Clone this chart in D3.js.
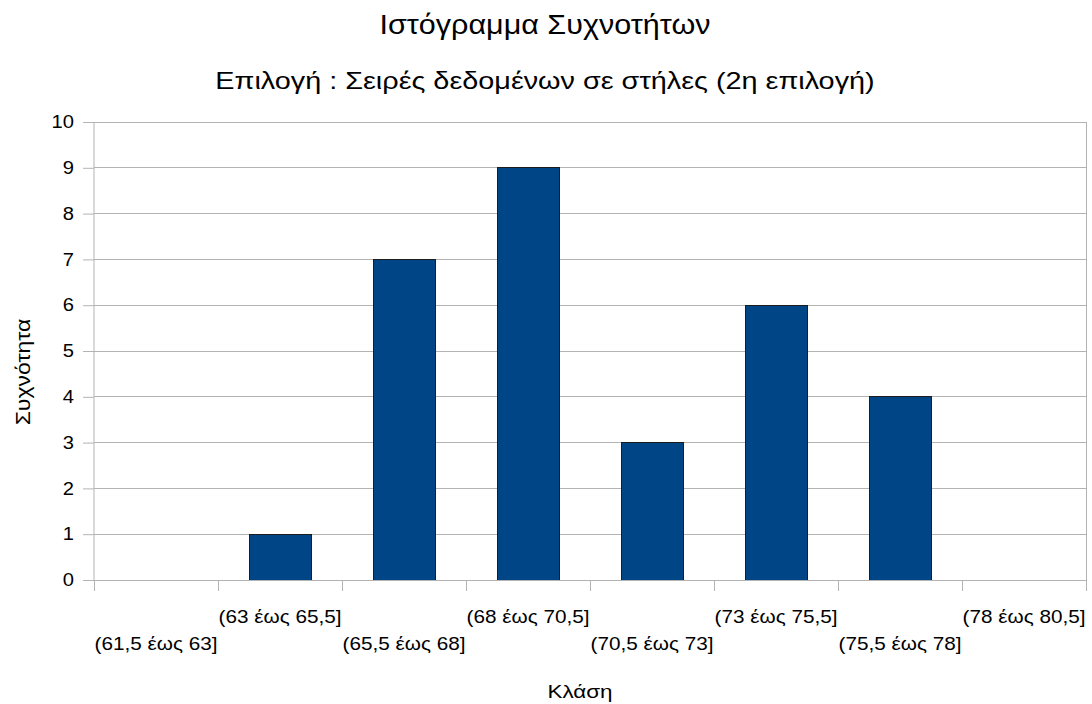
<!DOCTYPE html>
<html>
<head>
<meta charset="utf-8">
<script src="https://cdn.jsdelivr.net/npm/d3@7"></script>
<style>
  html, body { margin: 0; padding: 0; background: #fff; }
  svg text { font-family: "Liberation Sans", Arial, sans-serif; fill: #000; }
</style>
</head>
<body>
<svg id="chart" width="1092" height="704"></svg>
<script>
// Frequency histogram: class intervals and their counts
const categories = [
  "(61,5 έως 63]", "(63 έως 65,5]", "(65,5 έως 68]", "(68 έως 70,5]",
  "(70,5 έως 73]", "(73 έως 75,5]", "(75,5 έως 78]", "(78 έως 80,5]"
];
const frequencies = [0, 1, 7, 9, 3, 6, 4, 0];
const yTicks = [0, 1, 2, 3, 4, 5, 6, 7, 8, 9, 10];

const title = "Ιστόγραμμα Συχνοτήτων";
const subtitle = "Επιλογή : Σειρές δεδομένων σε στήλες (2η επιλογή)";
const xTitle = "Κλάση";
const yTitle = "Συχνότητα";

const svg = d3.select("#chart");
const plot = { left: 94, right: 1086, top: 122, bottom: 580 };
const widen = 1.12; // glyphs are drawn slightly wider than the font's natural width

// stretch a text selection horizontally along its own direction
function stretch(sel, factor) {
  sel.each(function () {
    const w = this.getComputedTextLength();
    d3.select(this)
      .attr("textLength", w * factor)
      .attr("lengthAdjust", "spacingAndGlyphs");
  });
}

const x = d3.scaleBand()
  .domain(categories)
  .range([plot.left, plot.right])
  .paddingInner(0.5)
  .paddingOuter(0.25);

const y = d3.scaleLinear()
  .domain([0, 10])
  .range([plot.bottom, plot.top]);

const gridColor = "#b3b3b3";

// horizontal grid lines
svg.append("g")
  .selectAll("line")
  .data(yTicks)
  .join("line")
  .attr("x1", plot.left)
  .attr("x2", plot.right)
  .attr("y1", d => y(d))
  .attr("y2", d => y(d))
  .attr("stroke", gridColor)
  .attr("stroke-width", 1)
  .attr("shape-rendering", "crispEdges");

// right border of the plot area
svg.append("line")
  .attr("x1", plot.right).attr("x2", plot.right)
  .attr("y1", plot.top).attr("y2", plot.bottom)
  .attr("stroke", gridColor)
  .attr("shape-rendering", "crispEdges");

// bars
svg.append("g")
  .selectAll("rect")
  .data(frequencies.map((v, i) => ({ c: categories[i], v })).filter(d => d.v > 0))
  .join("rect")
  .attr("x", d => x(d.c))
  .attr("width", x.bandwidth())
  .attr("y", d => y(d.v))
  .attr("height", d => y(0) - y(d.v))
  .attr("fill", "#004586")
  .attr("stroke", "#1c1c1c")
  .attr("stroke-width", 1)
  .attr("shape-rendering", "crispEdges");

// y axis
const yAxis = d3.axisLeft(y)
  .tickValues(yTicks)
  .tickSize(11)
  .tickPadding(9)
  .tickFormat(d3.format("d"));

const gy = svg.append("g")
  .attr("transform", `translate(${plot.left},0)`)
  .call(yAxis);
gy.select(".domain").attr("stroke", gridColor).attr("d", `M0,${plot.top}V${plot.bottom}`);
gy.selectAll(".tick line").attr("stroke", gridColor);
gy.selectAll(".tick text")
  .attr("font-size", 18)
  .attr("font-family", "Liberation Sans, Arial, sans-serif")
  .attr("fill", "#000")
  .call(stretch, widen);

// x axis: ticks at category boundaries, staggered labels at category centres
const step = x.step();
const boundaries = d3.range(categories.length + 1).map(i => plot.left + i * step);

const gx = svg.append("g");
gx.append("line")
  .attr("x1", plot.left).attr("x2", plot.right)
  .attr("y1", plot.bottom).attr("y2", plot.bottom)
  .attr("stroke", gridColor)
  .attr("shape-rendering", "crispEdges");
gx.selectAll("line.tick")
  .data(boundaries)
  .join("line")
  .attr("class", "tick")
  .attr("x1", d => d).attr("x2", d => d)
  .attr("y1", plot.bottom).attr("y2", plot.bottom + 11)
  .attr("stroke", gridColor)
  .attr("shape-rendering", "crispEdges");
gx.selectAll("text")
  .data(categories)
  .join("text")
  .attr("x", d => x(d) + x.bandwidth() / 2)
  .attr("y", (d, i) => i % 2 === 1 ? 623 : 650)
  .attr("text-anchor", "middle")
  .attr("font-size", 18.5)
  .text(d => d)
  .call(stretch, widen);

// titles
svg.append("text")
  .attr("x", 545).attr("y", 34)
  .attr("text-anchor", "middle")
  .attr("font-size", 28)
  .text(title)
  .call(stretch, 1.09);

svg.append("text")
  .attr("x", 545).attr("y", 89)
  .attr("text-anchor", "middle")
  .attr("font-size", 24)
  .text(subtitle)
  .call(stretch, 1.2);

svg.append("text")
  .attr("x", 580).attr("y", 698)
  .attr("text-anchor", "middle")
  .attr("font-size", 19)
  .text(xTitle)
  .call(stretch, 1.18);

svg.append("text")
  .attr("transform", "translate(30,372) rotate(-90)")
  .attr("text-anchor", "middle")
  .attr("font-size", 20)
  .text(yTitle)
  .call(stretch, 1.15);
</script>
</body>
</html>
